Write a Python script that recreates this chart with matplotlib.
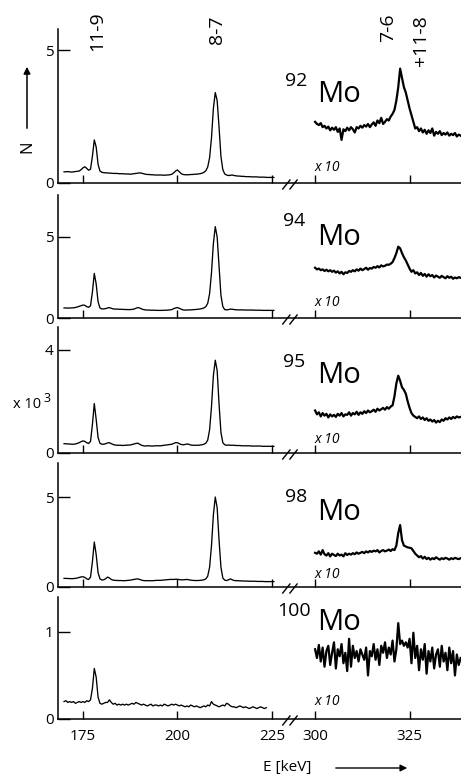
#!/usr/bin/env python3
"""Gamma spectra of Mo isotopes (11-9, 8-7, 7-6 lines), broken energy axis."""

import matplotlib
matplotlib.use("Agg")
import matplotlib.pyplot as plt
import numpy as np
from matplotlib.patches import FancyArrowPatch

plt.rcParams["font.family"] = ["Open Sans", "DejaVu Sans"]

W, H = 461, 777

# energy channels (keV)
E_LEFT = np.arange(170.0, 225.51, 0.5)
E_RIGHT = np.arange(300.0, 338.51, 0.5)
GAP_SHIFT = 63.6          # right segment is drawn shifted left by this
X_TICKS_KEV = [175, 200, 225, 300, 325]

ISOTOPES = ["92", "94", "95", "98", "100"]
Y_TICKS = [[0, 5], [0, 5], [0, 4], [0, 5], [0, 1]]
Y_TOPS = [5.79, 7.59, 4.89, 6.89, 1.40]

# counts (x10^3), left part 170-225.5 keV
MO92_L = [0.42, 0.42, 0.43, 0.42, 0.41, 0.42, 0.43, 0.44, 0.45, 0.50,
          0.57, 0.61, 0.55, 0.48, 0.52, 1.00, 1.62, 1.35, 0.70, 0.45,
          0.40, 0.39, 0.38, 0.38, 0.37, 0.37, 0.36, 0.36, 0.36, 0.35,
          0.35, 0.35, 0.34, 0.34, 0.34, 0.33, 0.34, 0.35, 0.36, 0.37,
          0.38, 0.37, 0.35, 0.33, 0.32, 0.32, 0.31, 0.31, 0.30, 0.30,
          0.30, 0.30, 0.30, 0.29, 0.30, 0.30, 0.31, 0.33, 0.38, 0.45,
          0.49, 0.42, 0.35, 0.32, 0.31, 0.31, 0.31, 0.32, 0.32, 0.33,
          0.33, 0.34, 0.35, 0.37, 0.40, 0.46, 0.60, 0.95, 1.70, 2.80,
          3.40, 3.10, 2.10, 1.00, 0.50, 0.34, 0.30, 0.28, 0.29, 0.30,
          0.28, 0.27, 0.26, 0.26, 0.25, 0.25, 0.24, 0.24, 0.24, 0.23,
          0.23, 0.23, 0.23, 0.22, 0.22, 0.22, 0.22, 0.21, 0.21, 0.21,
          0.21, 0.21]
MO94_L = [0.62, 0.62, 0.61, 0.62, 0.62, 0.63, 0.65, 0.68, 0.72, 0.76,
          0.80, 0.78, 0.70, 0.66, 0.75, 1.60, 2.75, 2.10, 1.00, 0.62,
          0.56, 0.56, 0.58, 0.62, 0.64, 0.60, 0.56, 0.55, 0.55, 0.54,
          0.54, 0.53, 0.53, 0.52, 0.52, 0.52, 0.53, 0.55, 0.60, 0.64,
          0.62, 0.56, 0.52, 0.50, 0.49, 0.49, 0.48, 0.48, 0.48, 0.47,
          0.47, 0.47, 0.47, 0.48, 0.48, 0.49, 0.50, 0.52, 0.58, 0.62,
          0.64, 0.60, 0.54, 0.50, 0.49, 0.49, 0.50, 0.50, 0.51, 0.52,
          0.53, 0.54, 0.56, 0.58, 0.62, 0.70, 0.90, 1.50, 2.80, 4.60,
          5.64, 5.00, 3.20, 1.40, 0.70, 0.52, 0.50, 0.52, 0.55, 0.54,
          0.52, 0.51, 0.50, 0.50, 0.50, 0.50, 0.49, 0.49, 0.49, 0.49,
          0.49, 0.48, 0.48, 0.48, 0.48, 0.47, 0.47, 0.47, 0.47, 0.47,
          0.47, 0.47]
MO95_L = [0.36, 0.36, 0.35, 0.35, 0.34, 0.34, 0.35, 0.37, 0.40, 0.44,
          0.47, 0.45, 0.40, 0.37, 0.45, 1.10, 1.92, 1.30, 0.60, 0.38,
          0.34, 0.34, 0.36, 0.39, 0.40, 0.36, 0.33, 0.31, 0.30, 0.30,
          0.30, 0.29, 0.30, 0.30, 0.31, 0.31, 0.33, 0.35, 0.37, 0.38,
          0.34, 0.30, 0.28, 0.27, 0.28, 0.28, 0.27, 0.27, 0.28, 0.28,
          0.28, 0.28, 0.29, 0.30, 0.31, 0.32, 0.33, 0.34, 0.37, 0.40,
          0.40, 0.36, 0.33, 0.32, 0.33, 0.35, 0.34, 0.31, 0.30, 0.30,
          0.30, 0.30, 0.31, 0.32, 0.34, 0.38, 0.50, 0.90, 1.80, 3.00,
          3.60, 3.20, 1.90, 0.80, 0.40, 0.32, 0.30, 0.31, 0.30, 0.30,
          0.30, 0.29, 0.29, 0.29, 0.28, 0.28, 0.28, 0.28, 0.28, 0.27,
          0.27, 0.27, 0.27, 0.27, 0.27, 0.26, 0.26, 0.26, 0.26, 0.26,
          0.26, 0.26]
MO98_L = [0.48, 0.48, 0.47, 0.47, 0.46, 0.47, 0.48, 0.50, 0.53, 0.56,
          0.57, 0.53, 0.45, 0.42, 0.55, 1.40, 2.50, 1.80, 0.80, 0.45,
          0.39, 0.40, 0.46, 0.55, 0.50, 0.42, 0.38, 0.37, 0.36, 0.36,
          0.36, 0.35, 0.35, 0.36, 0.37, 0.38, 0.40, 0.42, 0.44, 0.45,
          0.42, 0.38, 0.36, 0.35, 0.35, 0.35, 0.35, 0.35, 0.36, 0.37,
          0.37, 0.37, 0.38, 0.39, 0.40, 0.41, 0.42, 0.42, 0.42, 0.43,
          0.43, 0.41, 0.40, 0.40, 0.41, 0.42, 0.40, 0.38, 0.37, 0.36,
          0.36, 0.36, 0.37, 0.38, 0.40, 0.45, 0.60, 1.10, 2.30, 4.00,
          5.00, 4.40, 2.60, 1.10, 0.50, 0.38, 0.36, 0.40, 0.45, 0.40,
          0.36, 0.35, 0.35, 0.34, 0.34, 0.33, 0.33, 0.33, 0.32, 0.32,
          0.32, 0.32, 0.31, 0.31, 0.31, 0.31, 0.30, 0.30, 0.30, 0.30,
          0.30, 0.30]
nan = np.nan
MO100_L = [0.20, 0.21, 0.19, 0.20, 0.19, 0.20, 0.18, 0.19, 0.20, 0.19,
           0.20, 0.19, 0.21, 0.20, 0.22, 0.35, 0.58, 0.48, 0.25, 0.18,
           0.17, 0.18, 0.19, 0.19, 0.22, 0.19, 0.17, 0.18, 0.16, 0.17,
           0.16, 0.17, 0.16, 0.17, 0.16, 0.17, 0.18, 0.17, 0.19, 0.18,
           0.17, 0.16, 0.17, 0.16, 0.15, 0.16, 0.17, 0.15, 0.16, 0.16,
           0.15, 0.16, 0.15, 0.17, 0.16, 0.15, 0.16, 0.17, 0.16, 0.17,
           0.16, 0.15, 0.16, 0.15, 0.14, 0.15, 0.14, 0.16, 0.15, 0.14,
           0.15, 0.14, 0.13, 0.14, 0.15, 0.14, 0.16, 0.15, 0.20, 0.17,
           0.16, 0.15, 0.14, 0.15, 0.16, 0.15, 0.18, 0.17, 0.15, 0.14,
           0.14, 0.13, 0.14, 0.15, 0.14, 0.13, 0.14, 0.13, 0.12, 0.13,
           0.14, 0.13, 0.12, 0.13, 0.14, 0.13, 0.12, 0.13, nan, nan,
           nan, nan]

# right part 300-338.5 keV, already x10
MO92_R = [2.30, 2.22, 2.18, 2.25, 2.10, 2.15, 2.05, 2.12, 1.98, 2.08,
          2.00, 2.10, 1.92, 2.05, 1.62, 2.02, 1.95, 2.08, 1.98, 2.10,
          2.02, 1.90, 2.10, 2.05, 2.15, 2.08, 2.18, 2.12, 2.22, 2.10,
          2.20, 2.28, 2.15, 2.35, 2.25, 2.45, 2.22, 2.30, 2.40, 2.35,
          2.50, 2.60, 2.75, 3.10, 3.60, 4.30, 3.95, 3.60, 3.40, 3.10,
          2.80, 2.55, 2.30, 2.05, 2.10, 1.95, 2.05, 1.90, 2.00, 1.85,
          1.98, 1.88, 2.05, 1.78, 1.92, 1.85, 1.95, 1.80, 1.88, 1.82,
          1.90, 1.78, 1.85, 1.80, 1.88, 1.75, 1.82, 1.78]
MO94_R = [3.10, 3.00, 3.05, 2.95, 3.00, 2.90, 2.98, 2.88, 2.95, 2.85,
          2.92, 2.80, 2.88, 2.75, 2.85, 2.70, 2.82, 2.78, 2.90, 2.85,
          2.95, 2.88, 3.00, 2.92, 3.05, 2.95, 3.02, 3.10, 2.98, 3.08,
          3.05, 3.15, 3.10, 3.20, 3.12, 3.25, 3.18, 3.22, 3.30, 3.28,
          3.35, 3.45, 3.70, 4.00, 4.40, 4.30, 4.00, 3.75, 3.55, 3.30,
          3.05, 2.85, 2.95, 2.75, 2.82, 2.65, 2.78, 2.60, 2.72, 2.55,
          2.70, 2.58, 2.65, 2.50, 2.62, 2.55, 2.48, 2.60, 2.52, 2.45,
          2.58, 2.48, 2.55, 2.42, 2.50, 2.45, 2.52, 2.48]
MO95_R = [1.65, 1.50, 1.58, 1.42, 1.55, 1.45, 1.52, 1.38, 1.50, 1.42,
          1.48, 1.40, 1.52, 1.45, 1.55, 1.42, 1.50, 1.48, 1.58, 1.45,
          1.55, 1.50, 1.60, 1.48, 1.58, 1.52, 1.62, 1.55, 1.65, 1.58,
          1.62, 1.68, 1.60, 1.72, 1.65, 1.70, 1.75, 1.68, 1.78, 1.72,
          1.80, 1.85, 2.20, 2.70, 3.00, 2.80, 2.55, 2.45, 2.30, 2.00,
          1.75, 1.55, 1.45, 1.40, 1.35, 1.42, 1.32, 1.38, 1.28, 1.35,
          1.25, 1.30, 1.22, 1.28, 1.18, 1.25, 1.20, 1.30, 1.25, 1.35,
          1.30, 1.38, 1.32, 1.40, 1.35, 1.42, 1.38, 1.40]
MO98_R = [1.90, 1.85, 1.98, 1.80, 2.05, 1.82, 1.75, 1.88, 1.70, 1.85,
          1.78, 1.72, 1.85, 1.75, 1.80, 1.70, 1.88, 1.78, 1.85, 1.80,
          1.88, 1.82, 1.92, 1.85, 1.90, 1.95, 1.88, 1.98, 1.92, 2.00,
          1.95, 2.02, 1.98, 2.05, 1.92, 2.00, 2.05, 1.98, 2.02, 2.08,
          2.00, 2.10, 2.05, 2.30, 3.00, 3.44, 2.60, 2.30, 2.25, 2.20,
          2.18, 2.15, 2.00, 1.85, 1.75, 1.65, 1.72, 1.58, 1.68, 1.55,
          1.62, 1.52, 1.60, 1.55, 1.65, 1.58, 1.52, 1.60, 1.55, 1.62,
          1.58, 1.52, 1.60, 1.55, 1.62, 1.58, 1.55, 1.60]
MO100_R = [0.80, 0.70, 0.85, 0.66, 0.82, 0.60, 0.78, 0.84, 0.62, 0.76,
           0.88, 0.58, 0.80, 0.72, 0.86, 0.64, 0.76, 0.55, 0.92, 0.60,
           0.84, 0.70, 0.78, 0.66, 0.80, 0.74, 0.68, 0.82, 0.50, 0.78,
           0.72, 0.86, 0.68, 0.80, 0.62, 0.84, 0.76, 0.88, 0.70, 0.82,
           0.74, 0.90, 0.66, 0.80, 1.10, 0.86, 0.90, 0.84, 0.88, 0.82,
           0.92, 0.64, 0.99, 0.70, 0.84, 0.56, 0.80, 0.68, 0.86, 0.52,
           0.78, 0.66, 0.82, 0.58, 0.74, 0.80, 0.60, 0.84, 0.66, 0.76,
           0.56, 0.82, 0.64, 0.78, 0.50, 0.74, 0.62, 0.70]

LEFT = [MO92_L, MO94_L, MO95_L, MO98_L, MO100_L]
RIGHT = [MO92_R, MO94_R, MO95_R, MO98_R, MO100_R]

# layout (pixels in the 461x777 picture)
PANELS = [(29, 183), (195, 318), (327, 453), (463, 587), (597, 719)]
AX_LEFT = 58
LABEL_MO = [(317, 102), (317, 245), (317, 383), (317, 520), (317, 630)]
LABEL_NUM = [(285, 72), (283, 212), (283, 353), (285, 488), (277, 602)]
X10_BASE = [171, 306, 443, 578, 705]


def fx(x):
    return x / W


def fy(y):
    return 1 - y / H


def plot_x(e):
    e = np.asarray(e, dtype=float)
    return np.where(e > 250, e - GAP_SHIFT, e)


fig = plt.figure(figsize=(W / 100, H / 100), dpi=100)
xlim = (168.4, 275.0)

for i, (top, base) in enumerate(PANELS):
    ax = fig.add_axes([fx(AX_LEFT), fy(base), 1 - fx(AX_LEFT), (base - top) / H])
    assert len(LEFT[i]) == len(E_LEFT) and len(RIGHT[i]) == len(E_RIGHT)
    ax.plot(plot_x(E_LEFT), LEFT[i], color="black", lw=0.95)
    ax.plot(plot_x(E_RIGHT), RIGHT[i], color="black", lw=1.6)
    ax.set_xlim(*xlim)
    ax.set_ylim(0, Y_TOPS[i])
    for s in ("top", "right"):
        ax.spines[s].set_visible(False)
    for s in ("left", "bottom"):
        ax.spines[s].set_linewidth(1.1)
    ax.set_yticks(Y_TICKS[i])
    ax.tick_params(axis="y", direction="in", length=8.5, width=1.0, pad=3, labelsize=11)
    ax.set_xticks(plot_x(X_TICKS_KEV))
    ax.tick_params(axis="x", direction="in", length=6, width=1.0, pad=7, labelsize=11)
    if i == len(PANELS) - 1:
        ax.set_xticklabels([str(t) for t in X_TICKS_KEV])
    else:
        ax.set_xticklabels([])

    # axis break marks "//"
    ph = base - top
    for cx in (228.8, 230.7):
        ax.plot([cx - 0.95, cx + 0.95], [-6 / ph, 3 / ph], color="black", lw=1.0,
                transform=ax.get_xaxis_transform(), clip_on=False)

    # isotope labels
    nx, ny = LABEL_NUM[i]
    fig.text(fx(nx), fy(ny), ISOTOPES[i], fontsize=14, ha="left", va="top")
    mx, my = LABEL_MO[i]
    fig.text(fx(mx), fy(my), "Mo", fontsize=21, ha="left", va="baseline")
    fig.text(fx(315), fy(X10_BASE[i]), "x 10", fontsize=10, style="italic",
             ha="left", va="baseline")

# transition labels
for txt, x, y in [("11-9", 97, 31), ("8-7", 217, 30), ("7-6", 388, 28), ("+11-8", 421, 41)]:
    fig.text(fx(x), fy(y), txt, fontsize=14, rotation=90, ha="center", va="center")

# y label with arrow
fig.text(fx(27), fy(147), "N", fontsize=12, rotation=90, ha="center", va="center")
fig.add_artist(FancyArrowPatch((fx(27), fy(131)), (fx(27), fy(64)),
                               transform=fig.transFigure, arrowstyle="-|>",
                               mutation_scale=10, lw=1.1, color="black"))
fig.text(fx(13), fy(408), "x 10", fontsize=10.5, ha="left", va="baseline")
fig.text(fx(43), fy(392), "3", fontsize=9, ha="left", va="top")

# x label with arrow
fig.text(fx(263), fy(768), "E [keV]", fontsize=11, ha="left", va="center")
fig.add_artist(FancyArrowPatch((fx(333), fy(768)), (fx(410), fy(768)),
                               transform=fig.transFigure, arrowstyle="-|>",
                               mutation_scale=10, lw=1.0, color="black"))

fig.savefig("out.png", dpi=100)
